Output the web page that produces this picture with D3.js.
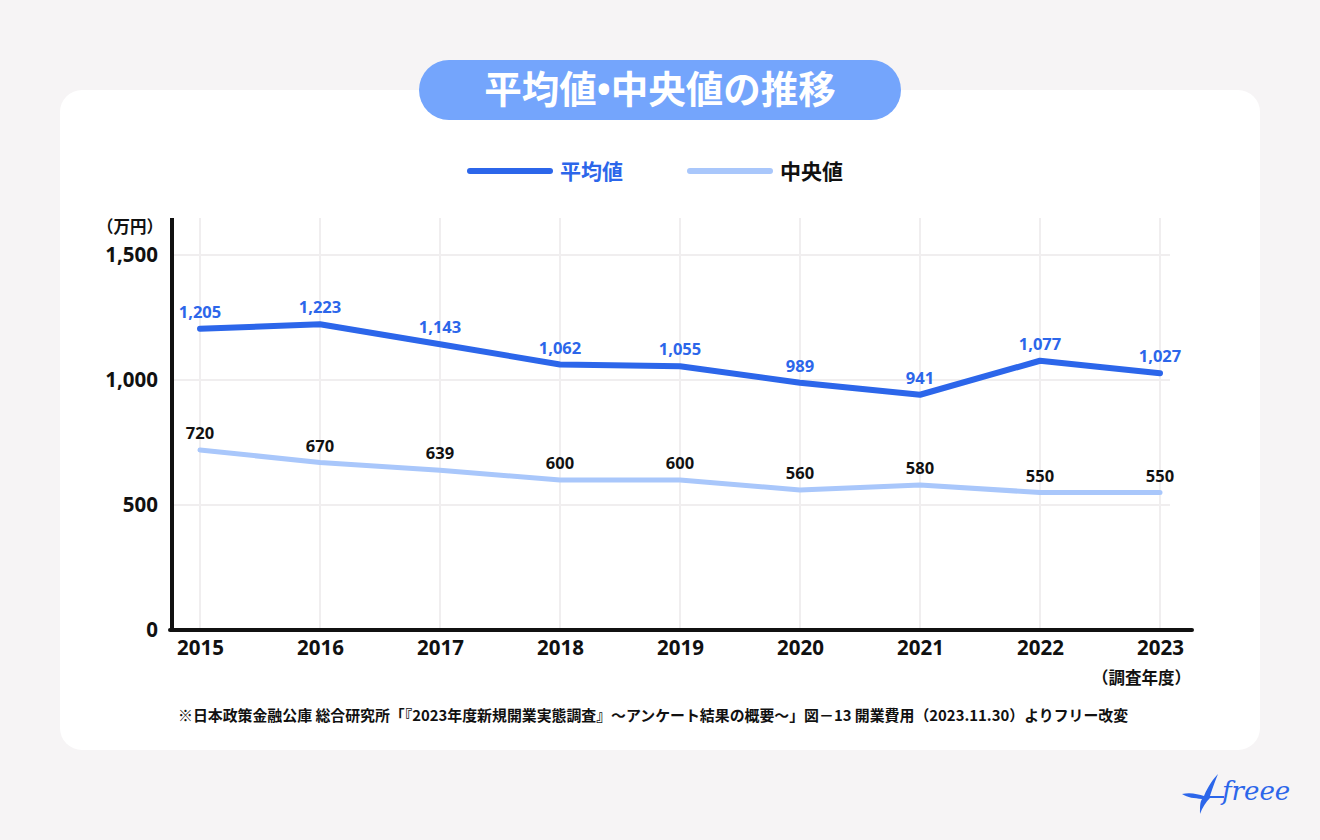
<!DOCTYPE html>
<html><head><meta charset="utf-8">
<script src="https://cdn.jsdelivr.net/npm/d3@7"></script>
<style>
html,body{margin:0;padding:0;background:#f6f4f5;}
svg{display:block;font-family:"Noto Sans CJK JP","Noto Sans",sans-serif;}
</style></head>
<body>
<svg id="c" width="1320" height="840"></svg>
<script>
const years = ["2015","2016","2017","2018","2019","2020","2021","2022","2023"];
const meanValues = [1205,1223,1143,1062,1055,989,941,1077,1027];
const medianValues = [720,670,639,600,600,560,580,550,550];
const yTicks = [0,500,1000,1500];
const titleParts = ["平均値","•","中央値の推移"];
const seriesNames = ["平均値","中央値"];
const note = "※日本政策金融公庫 総合研究所「『2023年度新規開業実態調査』～アンケート結果の概要～」図－13 開業費用（2023.11.30）よりフリー改変";

const svg = d3.select("#c");
const BLUE = "#2c66ea", LIGHT = "#a9c7fb";

// card
svg.append("rect").attr("x",60).attr("y",90).attr("width",1200).attr("height",660).attr("rx",22).attr("fill","#fff");
// title pill
svg.append("rect").attr("x",419).attr("y",60).attr("width",482).attr("height",60).attr("rx",30).attr("fill","#74a5fc");
const tt = svg.append("text").attr("x",660).attr("y",103).attr("text-anchor","middle").attr("fill","#fff")
  .attr("font-size",37.5).attr("font-weight",700);
tt.append("tspan").text(titleParts[0]);
tt.append("tspan").attr("font-family","'Noto Sans',sans-serif").text(titleParts[1]);
tt.append("tspan").text(titleParts[2]);

// legend
const leg = [{x:470,c:BLUE,t:seriesNames[0],tc:BLUE},{x:690,c:LIGHT,t:seriesNames[1],tc:"#111"}];
leg.forEach(l=>{
  svg.append("line").attr("x1",l.x).attr("x2",l.x+80).attr("y1",171).attr("y2",171)
    .attr("stroke",l.c).attr("stroke-width",6).attr("stroke-linecap","round");
  svg.append("text").attr("x",l.x+90).attr("y",179).attr("fill",l.tc).attr("font-size",21).attr("font-weight",700).text(l.t);
});

const x = d3.scalePoint().domain(years).range([200,1160]);
const y = d3.scaleLinear().domain([0,1500]).range([630,255]);

// grid
const g = svg.append("g");
g.selectAll(".vg").data(years).join("line").attr("x1",d=>x(d)).attr("x2",d=>x(d)).attr("y1",218).attr("y2",630)
  .attr("stroke","#f0eeef").attr("stroke-width",2);
g.selectAll(".hg").data(yTicks.filter(d=>d>0)).join("line").attr("x1",172).attr("x2",1170).attr("y1",d=>y(d)).attr("y2",d=>y(d))
  .attr("stroke","#f0eeef").attr("stroke-width",2);

// axes
const ya = svg.append("g").attr("transform","translate(172,0)")
  .call(d3.axisLeft(y).tickValues(yTicks).tickSize(0).tickPadding(14).tickFormat(d3.format(",")));
ya.select(".domain").remove();
ya.selectAll("text").attr("font-size",20.5).attr("font-weight",700).attr("fill","#111")
  .attr("font-family","'Noto Sans','Noto Sans CJK JP',sans-serif");
const xa = svg.append("g").attr("transform","translate(0,630)")
  .call(d3.axisBottom(x).tickSize(0).tickPadding(10));
xa.select(".domain").remove();
xa.selectAll("text").attr("font-size",20.5).attr("font-weight",700).attr("fill","#111")
  .attr("font-family","'Noto Sans','Noto Sans CJK JP',sans-serif");
svg.append("line").attr("x1",172).attr("x2",172).attr("y1",218).attr("y2",632).attr("stroke","#111").attr("stroke-width",4);
svg.append("line").attr("x1",170).attr("x2",1192).attr("y1",630).attr("y2",630).attr("stroke","#111").attr("stroke-width",4).attr("stroke-linecap","round");

svg.append("text").attr("x",163).attr("y",233).attr("text-anchor","end").attr("font-size",16.5).attr("font-weight",700).attr("fill","#111").text("（万円）");
svg.append("text").attr("x",1191).attr("y",684).attr("text-anchor","end").attr("font-size",16.5).attr("font-weight",700).attr("fill","#111").text("（調査年度）");

// lines
const line = d3.line().x((d,i)=>x(years[i])).y(d=>y(d));
svg.append("path").datum(medianValues).attr("d",line).attr("fill","none").attr("stroke",LIGHT).attr("stroke-width",5).attr("stroke-linecap","round").attr("stroke-linejoin","round");
svg.append("path").datum(meanValues).attr("d",line).attr("fill","none").attr("stroke",BLUE).attr("stroke-width",6).attr("stroke-linecap","round").attr("stroke-linejoin","round");

// labels
svg.selectAll(".ml").data(meanValues).join("text").attr("x",(d,i)=>x(years[i])).attr("y",d=>y(d)-11)
  .attr("text-anchor","middle").attr("font-size",16.5).attr("font-weight",700).attr("fill",BLUE)
  .attr("font-family","'Noto Sans',sans-serif").text(d3.format(","));
svg.selectAll(".dl").data(medianValues).join("text").attr("x",(d,i)=>x(years[i])).attr("y",d=>y(d)-11)
  .attr("text-anchor","middle").attr("font-size",16.5).attr("font-weight",700).attr("fill","#111")
  .attr("font-family","'Noto Sans',sans-serif").text(d3.format(","));

// note
svg.append("text").attr("x",178).attr("y",721).attr("font-size",14.9).attr("font-weight",700).attr("fill","#111").text(note);

// logo
const lg = svg.append("g").attr("transform","translate(1180,772)");
lg.append("path").attr("d","M2,22 C10,20 18,22 24,24 C28,14 34,6 38,2 C34,12 32,18 30,24 L44,24 L44,26 L30,26 C26,30 22,36 20,42 C20,34 20,30 22,27 C14,26 8,26 2,22 Z").attr("fill","#2c66ea");
lg.append("text").attr("x",42).attr("y",28).attr("font-size",26).attr("font-style","italic").attr("fill","#2c66ea")
  .attr("font-family","'DejaVu Serif',serif").text("freee");
</script>
</body></html>
